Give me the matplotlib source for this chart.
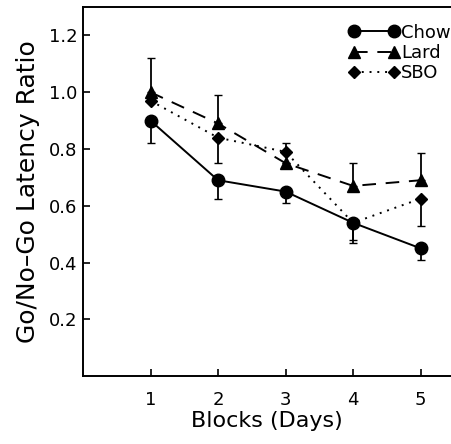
import matplotlib
matplotlib.use('agg')
import matplotlib.pyplot as plt

plt.rcParams['font.family'] = ['DejaVu Sans']

blocks = [1, 2, 3, 4, 5]

chow = [0.90, 0.69, 0.65, 0.54, 0.45]
chow_lo = [0.08, 0.065, 0.04, 0.07, 0.04]
chow_hi = [0, 0, 0, 0, 0]

lard = [1.00, 0.89, 0.75, 0.67, 0.69]
lard_lo = [0, 0, 0, 0, 0]
lard_hi = [0.12, 0.10, 0, 0.08, 0.095]

sbo = [0.97, 0.84, 0.79, 0.54, 0.625]
sbo_lo = [0, 0.09, 0, 0.06, 0.095]
sbo_hi = [0, 0, 0.03, 0, 0]

fig = plt.figure(figsize=(4.51, 4.44), dpi=100)
ax = fig.add_axes([0.184, 0.153, 0.816, 0.831])

ax.errorbar(blocks, chow, yerr=[chow_lo, chow_hi], color='black', linestyle='-',
            marker='o', markersize=9, lw=1.4, capsize=3, elinewidth=1.3, label='Chow')
ax.errorbar(blocks, lard, yerr=[lard_lo, lard_hi], color='black', linestyle=(0, (7, 5)),
            marker='^', markersize=9, lw=1.4, capsize=3, elinewidth=1.3, label='Lard')
ax.errorbar(blocks, sbo, yerr=[sbo_lo, sbo_hi], color='black', linestyle=(0, (1, 3)),
            marker='D', markersize=6.5, lw=1.4, capsize=3, elinewidth=1.3, label='SBO')

ax.set_xlim(0, 5.45)
ax.set_ylim(0, 1.3)
ax.set_xticks(blocks)
ax.set_yticks([0.2, 0.4, 0.6, 0.8, 1.0, 1.2])
ax.set_yticklabels(['0.2', '0.4', '0.6', '0.8', '1.0', '1.2'])
ax.tick_params(direction='in', length=5, width=1.2, labelsize=13)
ax.tick_params(axis='x', pad=11)
ax.tick_params(axis='y', pad=4)
ax.spines['right'].set_visible(False)
for s in ['left', 'bottom', 'top']:
    ax.spines[s].set_linewidth(1.4)

ax.set_xlabel('Blocks (Days)', fontsize=16, labelpad=1)
ax.set_ylabel('Go/No\u2013Go Latency Ratio', fontsize=18, labelpad=6)

handles, labels = ax.get_legend_handles_labels()
handles = [h[0] for h in handles]
ax.legend(handles, labels, loc='upper right', bbox_to_anchor=(1.0, 0.955), frameon=False,
          numpoints=2, handlelength=2.8, handletextpad=0.1, labelspacing=0.12,
          borderpad=0, borderaxespad=0, fontsize=13)

fig.savefig('out.png', dpi=100)
